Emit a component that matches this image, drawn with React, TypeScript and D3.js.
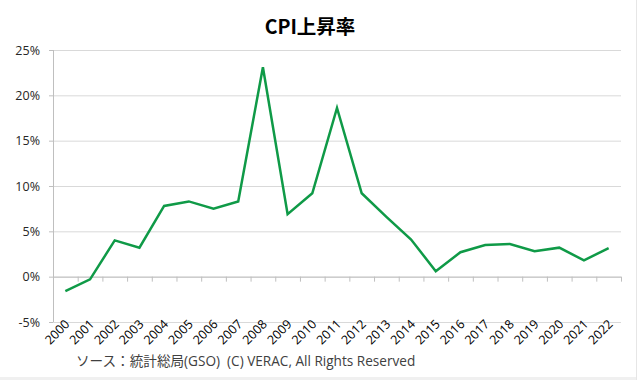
import React from "react";
import * as d3 from "d3";

const years: string[] = ["2000","2001","2002","2003","2004","2005","2006","2007","2008","2009","2010","2011","2012","2013","2014","2015","2016","2017","2018","2019","2020","2021","2022"];
const cpi: number[] = [-1.6, -0.3, 4.0, 3.2, 7.8, 8.3, 7.5, 8.3, 23.1, 6.9, 9.2, 18.6, 9.2, 6.6, 4.1, 0.6, 2.7, 3.5, 3.6, 2.8, 3.2, 1.8, 3.15];
const yTicks: number[] = [-5, 0, 5, 10, 15, 20, 25];
const title = "CPI上昇率";
const source = "ソース：統計総局(GSO)  (C) VERAC, All Rights Reserved";

const W = 637, H = 380;
const L = 53, R = 621, T = 50, B = 322;
const font = "'Open Sans', 'Noto Sans', 'Noto Sans CJK JP', sans-serif";

export default function App() {
  const x = d3.scaleBand<string>().domain(years).range([L, R]).padding(0);
  const y = d3.scaleLinear().domain([-5, 25]).range([B, T]);
  const cx = (d: string) => (x(d) as number) + x.bandwidth() / 2;
  const line = d3.line<number>().x((_, i) => cx(years[i])).y((v) => y(v));
  const boundaries = years.map((d) => x(d) as number).concat([R]);
  const y0 = y(0);
  return (
    <svg width={W} height={H} style={{ position: "fixed", left: 0, top: 0, background: "#fff" }}>
      <rect x={0} y={0} width={W} height={H} fill="#fff" />
      <rect x={0} y={377} width={W} height={3} fill="#f0f0f0" />
      <line x1={636.5} x2={636.5} y1={0} y2={H} stroke="#e6e6e6" />
      <text x={310} y={34} textAnchor="middle" fontFamily="'Noto Sans CJK JP', sans-serif" fontWeight="bold" fontSize={19.5} fill="#000">{title}</text>
      {yTicks.map((t) => (
        <g key={t}>
          <line x1={L} x2={R} y1={y(t) + 0.5} y2={y(t) + 0.5} stroke="#d9d9d9" strokeWidth={1} />
          <line x1={L - 4} x2={L} y1={y(t) + 0.5} y2={y(t) + 0.5} stroke="#bfbfbf" strokeWidth={1} />
          <text x={40} y={y(t) + 4.5} textAnchor="end" fontFamily={font} fontSize={12.5} fill="#262626">{t}%</text>
        </g>
      ))}
      <line x1={L + 0.5} x2={L + 0.5} y1={T} y2={B} stroke="#bfbfbf" />
      <line x1={L} x2={R} y1={y0 + 0.5} y2={y0 + 0.5} stroke="#bfbfbf" />
      {boundaries.map((b, i) => (
        <line key={i} x1={b + 0.5} x2={b + 0.5} y1={y0} y2={y0 + 5} stroke="#bfbfbf" />
      ))}
      <path d={line(cpi) || ""} fill="none" stroke="#0f9a47" strokeWidth={2.5} strokeLinejoin="miter" />
      {years.map((d) => (
        <text key={d} transform={`translate(${cx(d) + 5},${B + 3}) rotate(-45)`} textAnchor="end" fontFamily={font} fontSize={12.5} fill="#000">{d}</text>
      ))}
      <text x={76} y={366} fontFamily={font} fontSize={13.6} fill="#404040" xmlSpace="preserve" style={{ whiteSpace: "pre" }}>{source}</text>
    </svg>
  );
}
